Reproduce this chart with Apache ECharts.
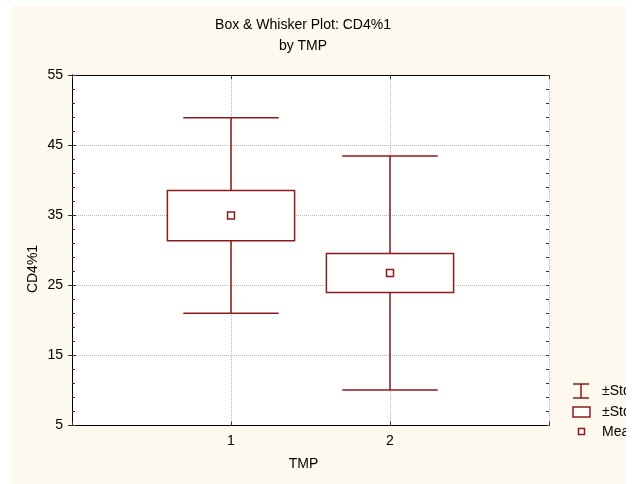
<!DOCTYPE html>
<html>
<head>
<meta charset="utf-8">
<script src="https://cdn.jsdelivr.net/npm/echarts@6/dist/echarts.min.js"></script>
<style>
  html, body { margin: 0; padding: 0; background: #ffffff; }
  body { width: 638px; height: 484px; position: relative; overflow: hidden; }
  #panel { position: absolute; left: 12px; top: 6px; width: 614px; height: 478px; background: #fef9ee; overflow: hidden; }
  #chart { width: 614px; height: 478px; }
</style>
</head>
<body>
<div id="panel"><div id="chart"></div></div>
<script>
// Group summary statistics of CD4%1 by TMP
const groups = [1, 2];
const means = [34.95, 26.75];
const stdErr = [3.58, 2.78];
const stdDev = [13.95, 16.7];

const yTicks = [5, 15, 25, 35, 45, 55];
const xTickLabels = ['1', '2'];

const titleText = 'Box & Whisker Plot: CD4%1';
const subtitleText = 'by TMP';
const legendLabels = ['\u00b1Std. Dev.', '\u00b1Std. Err.', 'Mean'];

const markColor = '#8c1a1a';
const font = 'Liberation Sans, Arial, sans-serif';
const fs = 14;

const boxData = groups.map((g, i) => [
  g,
  means[i] - stdDev[i],
  means[i] - stdErr[i],
  means[i],
  means[i] + stdErr[i],
  means[i] + stdDev[i]
]);

function renderBox(params, api) {
  const x = api.value(0);
  const pLowSD = api.coord([x, api.value(1)]);
  const pLowSE = api.coord([x, api.value(2)]);
  const pMean = api.coord([x, api.value(3)]);
  const pHighSE = api.coord([x, api.value(4)]);
  const pHighSD = api.coord([x, api.value(5)]);
  const boxW = api.size([0.8, 0])[0];
  const capW = api.size([0.6, 0])[0];
  const cx = pMean[0];
  const line = { stroke: markColor, lineWidth: 1.5 };
  return {
    type: 'group',
    children: [
      { type: 'line', shape: { x1: cx, y1: pHighSD[1], x2: cx, y2: pHighSE[1] }, style: line },
      { type: 'line', shape: { x1: cx, y1: pLowSE[1], x2: cx, y2: pLowSD[1] }, style: line },
      { type: 'line', shape: { x1: cx - capW / 2, y1: pHighSD[1], x2: cx + capW / 2, y2: pHighSD[1] }, style: line },
      { type: 'line', shape: { x1: cx - capW / 2, y1: pLowSD[1], x2: cx + capW / 2, y2: pLowSD[1] }, style: line },
      { type: 'rect', shape: { x: cx - boxW / 2, y: pHighSE[1], width: boxW, height: pLowSE[1] - pHighSE[1] },
        style: { fill: '#ffffff', stroke: markColor, lineWidth: 1.5 } },
      { type: 'rect', shape: { x: cx - 3.5, y: pMean[1] - 3.5, width: 7, height: 7 },
        style: { fill: '#ffffff', stroke: markColor, lineWidth: 1.5 } }
    ]
  };
}

const axisLine = { show: true, lineStyle: { color: '#000', width: 1 } };
const tickStyle = { show: true, inside: true, length: 4, lineStyle: { color: '#333' } };
const dotted = { show: true, lineStyle: { type: 'dotted', color: '#b8b8b8', width: 1 } };
const yMin = yTicks[0], yMax = yTicks[yTicks.length - 1];

// secondary y axis carrying the small inward ticks every 2 units
function minorYAxis(pos) {
  return {
    type: 'value', min: yMin, max: yMax, interval: 2, position: pos,
    axisLine: { show: false },
    axisTick: { show: true, inside: true, length: 3, lineStyle: { color: '#333' } },
    axisLabel: { show: false }, splitLine: { show: false }
  };
}

const chart = echarts.init(document.getElementById('chart'), null, { renderer: 'canvas' });

const lx = 561, tx = 590;
const legendText = { fontSize: fs, fontFamily: font, fill: '#000', verticalAlign: 'middle' };
chart.setOption({
  animation: false,
  backgroundColor: 'transparent',
  textStyle: { fontFamily: font },
  grid: { left: 60, right: 77, top: 69, bottom: 58.5, show: true, backgroundColor: '#ffffff', borderWidth: 0 },
  xAxis: [
    {
      type: 'value', min: 0, max: 3, interval: 1, position: 'bottom',
      name: 'TMP', nameLocation: 'middle', nameGap: 32,
      nameTextStyle: { fontSize: fs, color: '#000', fontFamily: font, padding: [0, 14, 0, 0] },
      axisLine: axisLine, axisTick: tickStyle,
      axisLabel: { margin: 9, fontSize: fs, color: '#000', fontFamily: font,
        formatter: v => (v >= 1 && v <= xTickLabels.length ? xTickLabels[v - 1] : '') },
      splitLine: dotted
    },
    {
      type: 'value', min: 0, max: 3, interval: 1, position: 'top',
      axisLine: axisLine, axisTick: tickStyle, axisLabel: { show: false }, splitLine: { show: false }
    }
  ],
  yAxis: [
    {
      type: 'value', min: yMin, max: yMax, interval: 10, position: 'left',
      axisLine: axisLine, axisTick: tickStyle,
      axisLabel: { margin: 9, fontSize: fs, color: '#000', fontFamily: font },
      splitLine: dotted
    },
    {
      type: 'value', min: yMin, max: yMax, interval: 10, position: 'right',
      axisLine: axisLine, axisTick: tickStyle,
      axisLabel: { show: false }, splitLine: { show: false }
    },
    minorYAxis('left'),
    minorYAxis('right')
  ],
  series: [{
    type: 'custom',
    renderItem: renderBox,
    data: boxData,
    encode: { x: 0, y: [1, 2, 3, 4, 5] },
    clip: false,
    z: 5
  }],
  graphic: [
    { type: 'text', x: 291, y: 19, style: { text: titleText, fontSize: fs, fontFamily: font, fill: '#000', align: 'center', verticalAlign: 'middle' } },
    { type: 'text', x: 291, y: 40, style: { text: subtitleText, fontSize: fs, fontFamily: font, fill: '#000', align: 'center', verticalAlign: 'middle' } },
    // y-axis title
    { type: 'text', x: 21, y: 263, rotation: Math.PI / 2, style: { text: 'CD4%1', fontSize: fs, fontFamily: font, fill: '#000', align: 'center', verticalAlign: 'middle' } },
    // legend: whisker icon
    { type: 'line', shape: { x1: lx, y1: 378, x2: lx + 16, y2: 378 }, style: { stroke: markColor, lineWidth: 1.5 } },
    { type: 'line', shape: { x1: lx, y1: 392, x2: lx + 16, y2: 392 }, style: { stroke: markColor, lineWidth: 1.5 } },
    { type: 'line', shape: { x1: lx + 8, y1: 378, x2: lx + 8, y2: 392 }, style: { stroke: markColor, lineWidth: 1.5 } },
    { type: 'text', x: tx, y: 385, style: Object.assign({ text: legendLabels[0] }, legendText) },
    // legend: box icon
    { type: 'rect', shape: { x: lx, y: 401, width: 17, height: 10 }, style: { fill: '#ffffff', stroke: markColor, lineWidth: 1.5 } },
    { type: 'text', x: tx, y: 406, style: Object.assign({ text: legendLabels[1] }, legendText) },
    // legend: mean marker
    { type: 'rect', shape: { x: lx + 5.5, y: 422.5, width: 6, height: 6 }, style: { fill: '#ffffff', stroke: markColor, lineWidth: 1.5 } },
    { type: 'text', x: tx, y: 426, style: Object.assign({ text: legendLabels[2] }, legendText) }
  ]
});
</script>
</body>
</html>
